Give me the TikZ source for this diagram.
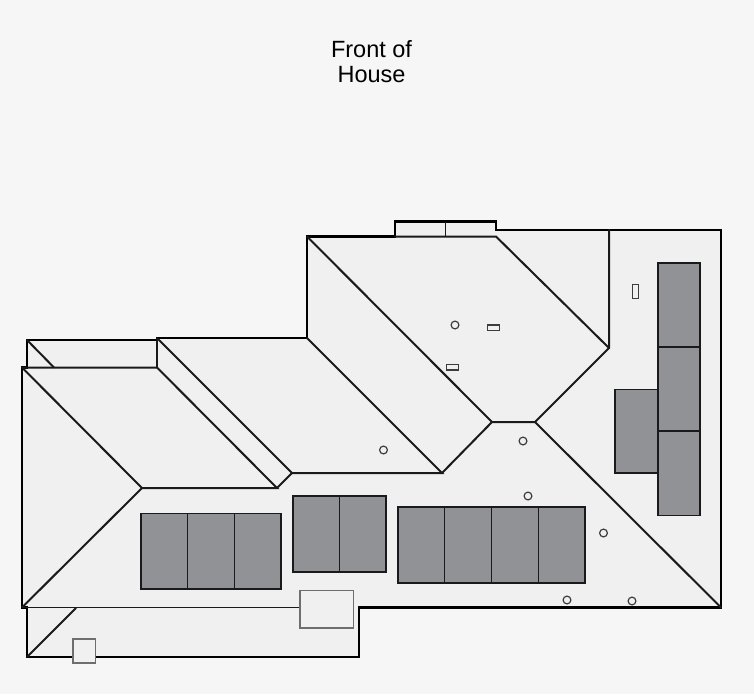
\documentclass[tikz,border=0pt]{standalone}
\usepackage{fontspec}
\setmainfont{Liberation Sans}
\definecolor{bgc}{HTML}{F6F6F6}
\definecolor{roofc}{HTML}{F0F0F0}
\definecolor{panelc}{HTML}{919295}
\definecolor{inkc}{HTML}{1A1A1C}
\definecolor{greyc}{HTML}{6E6E6E}
\tikzset{
  outline/.style={draw=black,line width=2.8pt,line join=miter},
  ridge/.style={draw=inkc,line width=2pt,line cap=round},
  panel/.style={draw=inkc,line width=1.7pt,fill=panelc},
  seam/.style={draw=inkc,line width=1.5pt},
  vent/.style={draw=inkc!85,line width=1.2pt,fill=roofc},
  hatch/.style={draw=greyc,line width=1.2pt,fill=roofc},
  title/.style={font=\fontsize{23.5}{25}\selectfont,align=center,text=black,inner sep=0pt}
}
\begin{document}
\begin{tikzpicture}[x=1pt,y=-1pt]
\useasboundingbox[fill=bgc] (0,0) rectangle (754,694);
\node[title] (frontlabel) at (371.5,61.5) {Front of\\House};
% roof
\path[outline,fill=roofc] (22,367.5) -- (27,367.5) -- (27,340) -- (157,340) -- (157,338) -- (307,338) -- (307,236.5) -- (395,236.5) -- (395,221.5) -- (496,221.5) -- (496,230) -- (721,230) -- (721,607.5) -- (359,607.5) -- (359,657) -- (27,657) -- (27,607.5) -- (22,607.5) -- cycle;
% ridges and hips
\draw[ridge] (22,367.5) -- (157,367.5) -- (277,488) -- (142,488) -- (22,367.5);
\draw[ridge] (142,488) -- (22,607.5);
\draw[ridge] (157,340) -- (157,367.5);
\draw[ridge] (157,338) -- (292,473) -- (277,488);
\draw[ridge] (292,473) -- (442,473) -- (307,338);
\draw[ridge] (442,473) -- (492,422) -- (535,422) -- (609,348) -- (609,230);
\draw[ridge] (609,348) -- (496,236.5) -- (395,236.5);
\draw[ridge] (307,236.5) -- (492,422);
\draw[ridge] (535,422) -- (721,607.5);
\draw[ridge] (27,340) -- (54,367.5);
\draw[ridge] (27,657) -- (76,608);
\draw[seam] (445.5,222) -- (445.5,236.5);
\draw[draw=inkc,line width=1.6pt] (22,607.5) -- (300,607.5);
% panels
\draw[panel] (141,513.5) rectangle (281,589);
\draw[seam] (187.5,513.5) -- (187.5,589) (234.5,513.5) -- (234.5,589);
\draw[panel] (293,496) rectangle (386,572);
\draw[seam] (339.5,496) -- (339.5,572);
\draw[panel] (398,507) rectangle (585,583);
\draw[seam] (444.5,507) -- (444.5,583) (491.5,507) -- (491.5,583) (538.5,507) -- (538.5,583);
\draw[panel] (615,389.5) rectangle (658,473);
\draw[panel] (658,263) rectangle (700,515.5);
\draw[seam] (658,347) -- (700,347) (658,431) -- (700,431);
% fittings
\draw[hatch] (300,590.5) rectangle (353.5,628);
\draw[hatch] (73,639) rectangle (95.5,663);
\foreach \cx/\cy in {455/325,383.5/450,523/441,528/496,603.5/533,567/600,632/601}
  \draw[vent] (\cx,\cy) circle (3.9);
\draw[vent] (487.5,325) rectangle (499.5,330.5);
\draw[vent] (446.5,364.5) rectangle (458.5,370);
\draw[vent] (632.5,284.5) rectangle (638.5,298.5);
\end{tikzpicture}
\end{document}
